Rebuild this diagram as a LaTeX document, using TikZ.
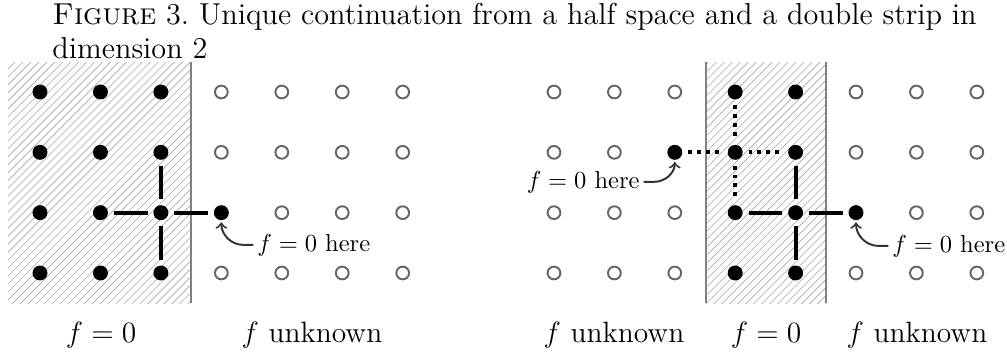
\documentclass[tikz,border=0pt]{standalone}
\usetikzlibrary{patterns.meta}
\begin{document}
\begin{tikzpicture}[x=0.408pt,y=-0.408pt,
  fdot/.style={circle,fill=black,inner sep=0pt,minimum size=6.1pt,outer sep=2.4pt},
  odot/.style={circle,draw=black!60,line width=0.8pt,inner sep=0pt,minimum size=5.2pt,outer sep=2.4pt},
  conn/.style={line width=1.6pt},
  dconn/.style={line width=1.6pt,dash pattern=on 1.6pt off 2pt},
  hatch/.style={pattern={Lines[angle=45,distance=2.3pt,line width=0.25pt]},pattern color=black!35},
  bnd/.style={draw=black!50,line width=0.8pt},
  ann/.style={inner sep=0pt,font=\normalsize},
  annarr/.style={->,line width=0.8pt,draw=black!80},
  lab/.style={inner sep=0pt,font=\large},
  captxt/.style={inner sep=0pt,font=\fontsize{12.35}{15}\selectfont}]
\useasboundingbox (0,0) rectangle (1007,356);
% caption
\node[captxt,anchor=base west] (cap1) at (52,24) {\textsc{Figure} 3.\ Unique continuation from a half space and a double strip in};
\node[captxt,anchor=base west] (cap2) at (52,58) {dimension 2};
% hatched regions
\fill[hatch] (8,62) rectangle (191,303);
\draw[bnd] (191,62) -- (191,303);
\fill[hatch] (706,62) rectangle (826,303);
\draw[bnd] (706,62) -- (706,303);
\draw[bnd] (826,62) -- (826,303);
% left grid
\foreach \c in {1,...,7}\foreach \r in {1,...,4}{%
  \pgfmathtruncatemacro\f{(\c<4)||(\c==4&&\r==3)}
  \ifnum\f=1 \tikzset{cur/.style=fdot}\else\tikzset{cur/.style=odot}\fi
  \node[cur] (L-\c-\r) at ({40+60.45*(\c-1)},{92+60.33*(\r-1)}) {};}
% right grid
\foreach \c in {1,...,8}\foreach \r in {1,...,4}{%
  \pgfmathtruncatemacro\f{(\c==4)||(\c==5)||(\c==3&&\r==2)||(\c==6&&\r==3)}
  \ifnum\f=1 \tikzset{cur/.style=fdot}\else\tikzset{cur/.style=odot}\fi
  \node[cur] (R-\c-\r) at ({554+60.4*(\c-1)},{92+60.33*(\r-1)}) {};}
% left connectors
\draw[conn] (L-2-3) -- (L-3-3);
\draw[conn] (L-3-3) -- (L-4-3);
\draw[conn] (L-3-2) -- (L-3-3);
\draw[conn] (L-3-3) -- (L-3-4);
% right connectors
\draw[dconn] (R-3-2) -- (R-4-2);
\draw[dconn] (R-4-2) -- (R-5-2);
\draw[dconn] (R-4-1) -- (R-4-2);
\draw[dconn] (R-4-2) -- (R-4-3);
\draw[conn] (R-5-2) -- (R-5-3);
\draw[conn] (R-4-3) -- (R-5-3);
\draw[conn] (R-5-3) -- (R-6-3);
\draw[conn] (R-5-3) -- (R-5-4);
% annotations
\node[ann,anchor=base west] (tL) at (257,251) {$f=0$ here};
\draw[annarr] ([xshift=-1.5pt]tL.west) -- ++(-10,0) to[out=180,in=-90] ([yshift=1.5pt]L-4-3.south);
\node[ann,anchor=base east] (tR1) at (640,188) {$f=0$ here};
\draw[annarr] ([xshift=1.5pt]tR1.east) -- ++(10,0) to[out=0,in=-90] ([yshift=1.5pt]R-3-2.south);
\node[ann,anchor=base west] (tR2) at (892,252) {$f=0$ here};
\draw[annarr] ([xshift=-1.5pt]tR2.west) -- ++(-10,0) to[out=180,in=-90] ([yshift=1.5pt]R-6-3.south);
% bottom labels
\node[lab,anchor=base] (b1) at (101,342) {$f=0$};
\node[lab,anchor=base] (b2) at (312,342) {$f$ unknown};
\node[lab,anchor=base] (b3) at (614,342) {$f$ unknown};
\node[lab,anchor=base] (b4) at (766,342) {$f=0$};
\node[lab,anchor=base] (b5) at (917,342) {$f$ unknown};
\end{tikzpicture}
\end{document}
